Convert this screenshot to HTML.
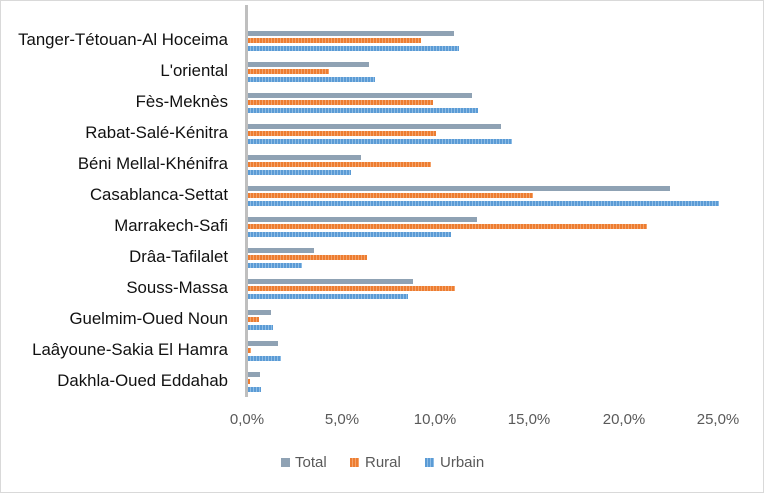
<!DOCTYPE html>
<html><head><style>
body{margin:0;background:#fff}
#c{position:relative;width:762px;height:491px;border:1px solid #d9d9d9;font-family:"Liberation Sans",sans-serif;color:#404040;overflow:hidden;background:#fff}
.l{position:absolute;right:535px;font-size:16.8px;white-space:nowrap;line-height:18px;color:#111}
.b{position:absolute;height:5px;left:247px}
.t{background:#8fa2b4}
.r{background:repeating-linear-gradient(90deg,#ed7d31 0 2px,#f4a36b 2px 3px)}
.u{background:repeating-linear-gradient(90deg,#5b9bd5 0 2px,#8ebde6 2px 3px)}
.x{position:absolute;top:410px;font-size:15px;color:#595959;transform:translateX(-50%)}
.lg{position:absolute;top:453px;font-size:15px;color:#595959}
.sq{position:absolute;top:457px;width:9px;height:9px}
</style></head><body><div id="c">
<div style="position:absolute;left:244px;top:4px;width:3px;height:392px;background:#bfbfbf"></div>
<div id="bars"></div>
<div class="x" style="left:246px">0,0%</div>
<div class="x" style="left:341px">5,0%</div>
<div class="x" style="left:434px">10,0%</div>
<div class="x" style="left:528px">15,0%</div>
<div class="x" style="left:623px">20,0%</div>
<div class="x" style="left:717px">25,0%</div>
<div class="sq t" style="left:280px"></div><div class="lg" style="left:294px">Total</div>
<div class="sq r" style="left:349px"></div><div class="lg" style="left:364px">Rural</div>
<div class="sq u" style="left:424px"></div><div class="lg" style="left:439px">Urbain</div>
</div>
<script>
var d=[["Tanger-Tétouan-Al Hoceima",453,420,458],["L'oriental",368,328,374],["Fès-Meknès",471,432,477],["Rabat-Salé-Kénitra",500,435,511],["Béni Mellal-Khénifra",360,430,350],["Casablanca-Settat",669,532,718],["Marrakech-Safi",476,646,450],["Drâa-Tafilalet",313,366,301],["Souss-Massa",412,454,407],["Guelmim-Oued Noun",270,258,272],["Laâyoune-Sakia El Hamra",277,250,280],["Dakhla-Oued Eddahab",259,249,260]];
var h="";d.forEach(function(g,i){var c=40+31*i;
h+='<div class="l" style="top:'+(c-10)+'px">'+g[0]+'</div>';
h+='<div class="b t" style="top:'+(c-10)+'px;width:'+(g[1]-247)+'px"></div>';
h+='<div class="b r" style="top:'+(c-3)+'px;width:'+(g[2]-247)+'px"></div>';
h+='<div class="b u" style="top:'+(c+5)+'px;width:'+(g[3]-247)+'px"></div>';});
document.getElementById("bars").innerHTML=h;
</script>
</body></html>
